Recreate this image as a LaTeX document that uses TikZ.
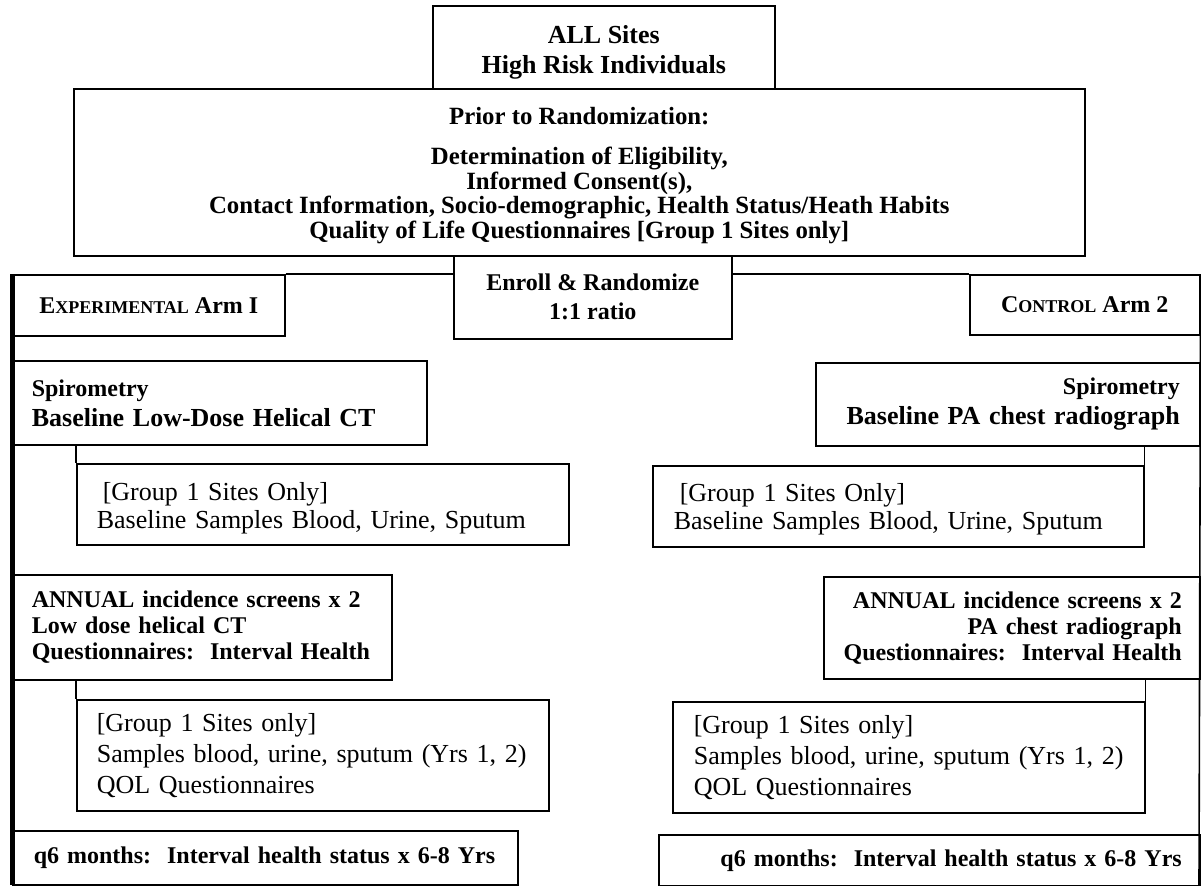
\documentclass[tikz,border=0pt]{standalone}
\usepackage{fontspec}
\setmainfont{Liberation Serif}
\usepackage{tikz}
\usetikzlibrary{calc}
\newcommand{\setfs}[2]{\fontsize{#1}{#2}\selectfont}
\newcommand{\fakesc}[2]{#1{\setfs{9}{12}#2}}

\begin{document}
\begin{tikzpicture}[x=0.5pt, y=-0.5pt,
    box/.style={draw, line width=0.8pt, rectangle, anchor=north west, inner ysep=0pt},
    conn/.style={line width=0.8pt},
    spine/.style={line width=2.5pt},
    hd/.style={font=\bfseries\setfs{12}{13}},
    txt/.style={font=\setfs{13}{14}}]
    \useasboundingbox[fill=white] (0,0) rectangle (1201,885);

    \node[box, align=center, minimum width=171pt, minimum height=41.5pt, font=\bfseries\setfs{13}{15}] (all) at (432,5) {\rule{0pt}{14pt}ALL Sites\\High Risk Individuals};
    \node[box, align=center, minimum width=505.5pt, minimum height=83.5pt, font=\bfseries\setfs{12.4}{12.3}] (prior) at (73,88)
        {\rule{0pt}{12pt}Prior to Randomization:\\[7.5pt]Determination of Eligibility,\\Informed Consent(s),\\Contact Information, Socio-demographic, Health Status/Heath Habits\\Quality of Life Questionnaires [Group 1 Sites only]};
    \node[box, align=center, minimum width=139pt, minimum height=41.5pt, font=\bfseries\setfs{12}{14.5}] (enroll) at (453,255) {Enroll \& Randomize\\1:1 ratio};
    \node[box, hd, align=center, minimum width=136pt, minimum height=30.5pt] (exp) at (12,274) {\fakesc{E}{XPERIMENTAL} Arm I};
    \node[box, hd, align=center, minimum width=115pt, minimum height=30pt] (ctrl) at (969,274) {\fakesc{C}{ONTROL} Arm 2};

    \node[box, align=left, minimum width=207pt, minimum height=42pt, inner xsep=9.5pt, text width=188pt, font=\bfseries\setfs{13}{15}] (lspiro) at (12,360)
        {{\setfs{12}{15}Spirometry}\\Baseline Low-Dose Helical CT};
    \node[box, txt, align=left, minimum width=246pt, minimum height=40.5pt, inner xsep=10pt, text width=226pt] (lgroup) at (76,463)
        {\rule{0pt}{13pt}\hspace*{3pt}[Group 1 Sites Only]\\Baseline Samples Blood, Urine, Sputum};
    \node[box, hd, align=left, minimum width=189.5pt, minimum height=52.5pt, inner xsep=9.5pt, text width=170.5pt] (lannual) at (12,574)
        {ANNUAL incidence screens x 2\\Low dose helical CT\\Questionnaires:\ \ Interval Health};
    \node[box, align=left, minimum width=236pt, minimum height=55.5pt, inner xsep=10pt, text width=216pt, font=\setfs{13}{15.5}] (lgroup2) at (76,699)
        {[Group 1 Sites only]\\Samples blood, urine, sputum (Yrs 1, 2)\\QOL Questionnaires};
    \node[box, hd, align=left, minimum width=252.5pt, minimum height=27pt, inner xsep=10.5pt, text width=231.5pt] (lq6) at (12,830)
        {q6 months:\ \ Interval health status x 6-8 Yrs};

    \node[box, align=right, minimum width=192pt, minimum height=41.5pt, inner xsep=10pt, text width=172pt, font=\bfseries\setfs{13}{15}] (rspiro) at (815,362)
        {{\setfs{12}{15}Spirometry}\\Baseline PA chest radiograph};
    \node[box, txt, align=left, minimum width=245.5pt, minimum height=40.5pt, inner xsep=10.5pt, text width=224.5pt] (rgroup) at (652,465)
        {\rule{0pt}{12pt}\hspace*{3pt}[Group 1 Sites Only]\\Baseline Samples Blood, Urine, Sputum};
    \node[box, hd, align=right, minimum width=188pt, minimum height=51pt, inner xsep=9pt, text width=170pt] (rannual) at (823,576)
        {ANNUAL incidence screens x 2\\PA chest radiograph\\Questionnaires:\ \ Interval Health};
    \node[box, align=left, minimum width=236pt, minimum height=55.5pt, inner xsep=10.5pt, text width=215pt, font=\setfs{13}{15.5}] (rgroup2) at (672,701)
        {[Group 1 Sites only]\\Samples blood, urine, sputum (Yrs 1, 2)\\QOL Questionnaires};
    \node[box, hd, align=right, minimum width=270.5pt, minimum height=25.5pt, inner xsep=9pt, text width=252.5pt] (rq6) at (658,834)
        {q6 months:\ \ Interval health status x 6-8 Yrs};

    \coordinate (lbot) at (12,885);
    \coordinate (rbot) at (1199,885);
    \draw[conn] (exp.north east) -- (exp.north east -| enroll.west);
    \draw[conn] (enroll.east |- ctrl.north) -- (ctrl.north west);
    \draw[conn] (ctrl.north east) -- (rbot);
    \draw[conn] (lspiro.south -| lgroup.west) -- (lgroup.north west);
    \draw[conn] (lannual.south -| lgroup2.west) -- (lgroup2.north west);
    \draw[conn] (rspiro.south -| rgroup.east) -- (rgroup.north east);
    \draw[conn] (rannual.south -| rgroup2.east) -- (rgroup2.north east);
    \draw[spine] (exp.north west) -- (lbot);
\end{tikzpicture}
\end{document}
